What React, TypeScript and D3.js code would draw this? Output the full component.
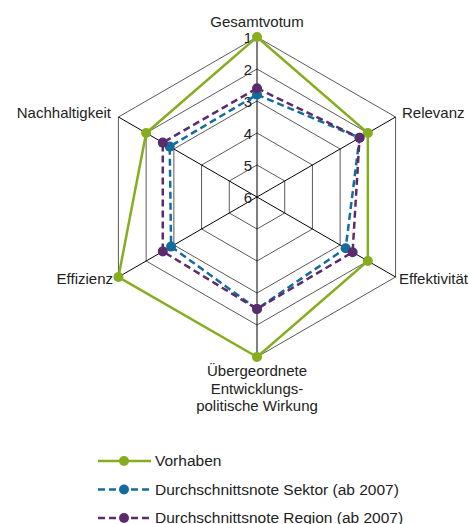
import * as d3 from "d3";

const axes = ["Gesamtvotum", "Relevanz", "Effektivität", "Übergeordnete Entwicklungs- politische Wirkung", "Effizienz", "Nachhaltigkeit"];
const ticks = [1, 2, 3, 4, 5, 6];
const vorhaben = [1, 2, 2, 1, 1, 2];
const sektor = [2.8, 2.3, 2.8, 2.5, 2.9, 2.85];
const region = [2.6, 2.3, 2.55, 2.5, 2.6, 2.6];

const series = [
  { name: "Vorhaben", values: vorhaben, color: "#86ad1f", dash: "" },
  { name: "Durchschnittsnote Sektor (ab 2007)", values: sektor, color: "#136c9b", dash: "7,4" },
  { name: "Durchschnittsnote Region (ab 2007)", values: region, color: "#5b2b6d", dash: "7,4" },
];

const W = 469;
const H = 524;
const cx = 257;
const cy = 197;
const font = "'Liberation Sans', Arial, sans-serif";

export default function App() {
  const r = d3.scaleLinear().domain([6, 1]).range([0, 160]);
  const angle = (i: number) => (i * 2 * Math.PI) / axes.length;
  const pt = (i: number, v: number): [number, number] => [
    cx + r(v) * Math.sin(angle(i)),
    cy - r(v) * Math.cos(angle(i)),
  ];
  const line = d3.line().curve(d3.curveLinearClosed);

  const labelPos = [
    { x: cx, y: 27, anchor: "middle" },
    { x: 402, y: 118, anchor: "start" },
    { x: 399, y: 284, anchor: "start" },
    { x: cx, y: 376, anchor: "middle" },
    { x: 113, y: 284, anchor: "end" },
    { x: 111, y: 118, anchor: "end" },
  ];

  return (
    <svg width={W} height={H} style={{ position: "absolute", left: 0, top: 0 }}>
      <rect width={W} height={H} fill="#fff" />
      {ticks.slice(0, 5).map((t) => (
        <path
          key={t}
          d={line(axes.map((_, i) => pt(i, t))) || ""}
          fill="none"
          stroke="#5a5a5a"
          strokeWidth={1}
        />
      ))}
      {axes.map((_, i) => {
        const [x, y] = pt(i, 1);
        return <line key={i} x1={cx} y1={cy} x2={x} y2={y} stroke="#000" strokeWidth={1} />;
      })}
      {ticks.map((t) => (
        <text key={t} x={cx - 5} y={cy - r(t) + 6} textAnchor="end" fontSize={15} fontFamily={font} fill="#222">
          {t}
        </text>
      ))}
      {axes.map((a, i) => {
        const p = labelPos[i];
        const lines = i === 3 ? ["Übergeordnete", "Entwicklungs-", "politische Wirkung"] : [a];
        return (
          <text key={a} x={p.x} y={p.y} textAnchor={p.anchor} fontSize={15} fontFamily={font} fill="#222">
            {lines.map((l, j) => (
              <tspan key={j} x={p.x} dy={j === 0 ? 0 : 17.5}>
                {l}
              </tspan>
            ))}
          </text>
        );
      })}
      {series.map((s) => (
        <g key={s.name}>
          <path
            d={line(s.values.map((v, i) => pt(i, v))) || ""}
            fill="none"
            stroke={s.color}
            strokeWidth={2.5}
            strokeDasharray={s.dash || undefined}
          />
          {s.values.map((v, i) => {
            const [x, y] = pt(i, v);
            return <circle key={i} cx={x} cy={y} r={5} fill={s.color} />;
          })}
        </g>
      ))}
      {series.map((s, k) => {
        const y = 461 + k * 28.5;
        return (
          <g key={s.name}>
            <line x1={98} x2={151} y1={y} y2={y} stroke={s.color} strokeWidth={2.5} strokeDasharray={s.dash || undefined} />
            <circle cx={124} cy={y} r={5} fill={s.color} />
            <text x={155} y={y + 5} fontSize={15.5} fontFamily={font} fill="#222">
              {s.name}
            </text>
          </g>
        );
      })}
    </svg>
  );
}
